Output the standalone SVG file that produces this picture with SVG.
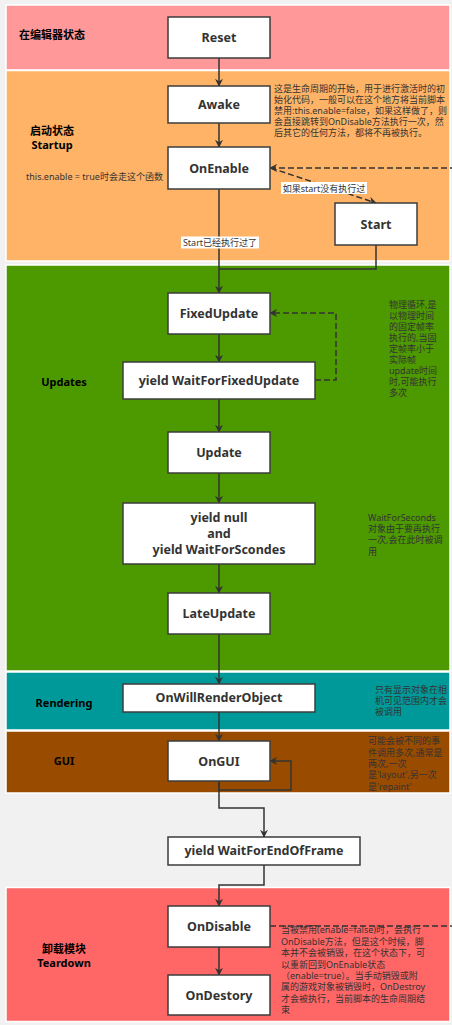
<svg xmlns="http://www.w3.org/2000/svg" width="452" height="1025" viewBox="0 0 452 1025">
<defs>
<style>
.band{stroke:#ffffff;stroke-width:1.5}
.node rect{fill:#ffffff;stroke:#3d3d3d;stroke-width:1.5}
.node text{font-family:"Noto Sans","Noto Sans CJK SC",sans-serif;font-weight:bold;font-size:12.5px;fill:#333333;text-anchor:middle;dominant-baseline:central}
.lbl{font-family:"Noto Sans","Noto Sans CJK SC",sans-serif;font-weight:bold;font-size:11px;fill:#000000;text-anchor:middle;dominant-baseline:central}
.note{font-family:"Noto Sans","Noto Sans CJK SC",sans-serif;font-size:9px;fill:#333333}
.elbl{font-family:"Noto Sans","Noto Sans CJK SC",sans-serif;font-size:9px;fill:#333333;text-anchor:middle;dominant-baseline:central}
.edge{fill:none;stroke:#333333;stroke-width:1.5}
.dash{stroke-dasharray:6 3}
</style>
<marker id="arr" viewBox="0 0 10 10" refX="9" refY="5" markerWidth="8" markerHeight="8" orient="auto" markerUnits="userSpaceOnUse">
<path d="M0,0 L10,5 L0,10 L3,5 Z" fill="#333333" stroke="none"/>
</marker>
</defs>
<rect x="0" y="0" width="452" height="1025" fill="#f1f1f1"/>
<g id="bands">
<rect class="band" x="6" y="5" width="444" height="65" fill="#ff9999"/>
<rect class="band" x="6" y="70.5" width="444" height="190.5" fill="#ffb366"/>
<rect class="band" x="6" y="265" width="444" height="406" fill="#4d9900"/>
<rect class="band" x="6" y="672" width="444" height="58" fill="#009999"/>
<rect class="band" x="6" y="731" width="444" height="62" fill="#994c00"/>
<rect class="band" x="6" y="887.5" width="444" height="134" fill="#ff6666"/>
<text class="lbl" x="52" y="34">在编辑器状态</text>
<text class="lbl" x="52" y="130.5">启动状态</text>
<text class="lbl" x="52" y="144">Startup</text>
<text class="lbl" x="64" y="381">Updates</text>
<text class="lbl" x="64" y="702">Rendering</text>
<text class="lbl" x="64" y="760.5">GUI</text>
<text class="lbl" x="64" y="948">卸载模块</text>
<text class="lbl" x="64" y="962">Teardown</text>
</g>
<g id="notes">
<text class="note" x="274" y="92"><tspan x="274">这是生命周期的开始，用于进行激活时的初</tspan><tspan x="274" dy="11.1">始化代码，一般可以在这个地方将当前脚本</tspan><tspan x="274" dy="11.1">禁用:this.enable=false，如果这样做了，则</tspan><tspan x="274" dy="11.1">会直接跳转到OnDisable方法执行一次，然</tspan><tspan x="274" dy="11.1">后其它的任何方法，都将不再被执行。</tspan></text>
<text class="note" x="26" y="179.5">this.enable = true时会走这个函数</text>
<text class="note" x="389" y="307.5"><tspan x="389">物理循环,是</tspan><tspan x="389" dy="11.1">以物理时间</tspan><tspan x="389" dy="11.1">的固定帧率</tspan><tspan x="389" dy="11.1">执行的,当固</tspan><tspan x="389" dy="11.1">定帧率小于</tspan><tspan x="389" dy="11.1">实际帧</tspan><tspan x="389" dy="11.1">update时间</tspan><tspan x="389" dy="11.1">时,可能执行</tspan><tspan x="389" dy="11.1">多次</tspan></text>
<text class="note" x="368" y="521"><tspan x="368">WaitForSeconds</tspan><tspan x="368" dy="11.2">对象由于要再执行</tspan><tspan x="368" dy="11.2">一次,会在此时被调</tspan><tspan x="368" dy="11.2">用</tspan></text>
<text class="note" x="375" y="692.5"><tspan x="375">只有显示对象在相</tspan><tspan x="375" dy="11.2">机可见范围内才会</tspan><tspan x="375" dy="11.2">被调用</tspan></text>
<text class="note" x="368" y="744.3"><tspan x="368">可能会被不同的事</tspan><tspan x="368" dy="11.3">件调用多次,通常是</tspan><tspan x="368" dy="11.3">两次,一次</tspan><tspan x="368" dy="11.3">是'layout',另一次</tspan><tspan x="368" dy="11.3">是'repaint'</tspan></text>
<text class="note" x="281" y="933.3"><tspan x="281">当被禁用(enable=false)时，会执行</tspan><tspan x="281" dy="11.4">OnDisable方法，但是这个时候，脚</tspan><tspan x="281" dy="11.4">本并不会被销毁，在这个状态下，可</tspan><tspan x="281" dy="11.4">以重新回到OnEnable状态</tspan><tspan x="281" dy="11.4">（enable=true）。当手动销毁或附</tspan><tspan x="281" dy="11.4">属的游戏对象被销毁时，OnDestroy</tspan><tspan x="281" dy="11.4">才会被执行，当前脚本的生命周期结</tspan><tspan x="281" dy="11.4">束</tspan></text>
</g>
<g id="connectors">
<path class="edge" d="M219,58 L219,86" marker-end="url(#arr)"/>
<path class="edge" d="M219,123 L219,147" marker-end="url(#arr)"/>
<path class="edge" d="M219,189 L219,293" marker-end="url(#arr)"/>
<path class="edge dash" d="M271,168 L376,203" marker-end="url(#arr)"/>
<path class="edge" d="M376,245 L376,269 L219,269"/>
<path class="edge" d="M219,334 L219,362" marker-end="url(#arr)"/>
<path class="edge dash" d="M315,380 L336,380 L336,313 L270,313" marker-end="url(#arr)"/>
<path class="edge" d="M219,399 L219,432" marker-end="url(#arr)"/>
<path class="edge" d="M219,473 L219,503" marker-end="url(#arr)"/>
<path class="edge" d="M219,564 L219,593" marker-end="url(#arr)"/>
<path class="edge" d="M219,634 L219,684" marker-end="url(#arr)"/>
<path class="edge" d="M219,712 L219,741" marker-end="url(#arr)"/>
<path class="edge" d="M219,781 L219,790 L291,790 L291,761 L270,761" marker-end="url(#arr)"/>
<path class="edge" d="M219,781 L219,808 L264,808 L264,837" marker-end="url(#arr)"/>
<path class="edge" d="M264,865 L264,885 L219,885 L219,906" marker-end="url(#arr)"/>
<path class="edge" d="M219,947 L219,975" marker-end="url(#arr)"/>
<path class="edge dash" d="M270,926 L470,926 L470,168 L270,168" marker-end="url(#arr)"/>
<rect x="181" y="236.5" width="78" height="12" fill="#ffffff"/>
<text class="elbl" x="220" y="242.5">Start已经执行过了</text>
<rect x="281" y="182" width="86" height="12" fill="#ffffff"/>
<text class="elbl" x="324" y="188">如果start没有执行过</text>
</g>
<g id="reset" class="node"><rect x="168" y="17" width="102" height="41"/><text x="219" y="37.5">Reset</text></g>
<g id="awake" class="node"><rect x="168" y="86" width="102" height="37"/><text x="219" y="104.5">Awake</text></g>
<g id="onenable" class="node"><rect x="168" y="147" width="102" height="42"/><text x="219" y="168">OnEnable</text></g>
<g id="start" class="node"><rect x="335" y="203" width="82" height="42"/><text x="376" y="224">Start</text></g>
<g id="fixedupdate" class="node"><rect x="168" y="293" width="102" height="41"/><text x="219" y="313.5">FixedUpdate</text></g>
<g id="waitforfixedupdate" class="node"><rect x="123" y="362" width="192" height="37"/><text x="219" y="380.5">yield WaitForFixedUpdate</text></g>
<g id="update" class="node"><rect x="168" y="432" width="102" height="41"/><text x="219" y="452.5">Update</text></g>
<g id="yieldnull" class="node"><rect x="123" y="503" width="192" height="61"/><text x="219" y="517.5">yield null</text><text x="219" y="533.5">and</text><text x="219" y="549.5">yield WaitForScondes</text></g>
<g id="lateupdate" class="node"><rect x="168" y="593" width="102" height="41"/><text x="219" y="613.5">LateUpdate</text></g>
<g id="onwillrenderobject" class="node"><rect x="123" y="684" width="192" height="28"/><text x="219" y="697.5">OnWillRenderObject</text></g>
<g id="ongui" class="node"><rect x="168" y="741" width="102" height="40"/><text x="219" y="761">OnGUI</text></g>
<g id="waitforendofframe" class="node"><rect x="168" y="837" width="192" height="28"/><text x="264" y="850.5">yield WaitForEndOfFrame</text></g>
<g id="ondisable" class="node"><rect x="168" y="906" width="102" height="41"/><text x="219" y="926.5">OnDisable</text></g>
<g id="ondestory" class="node"><rect x="168" y="975" width="102" height="40"/><text x="219" y="995">OnDestory</text></g>
</svg>
